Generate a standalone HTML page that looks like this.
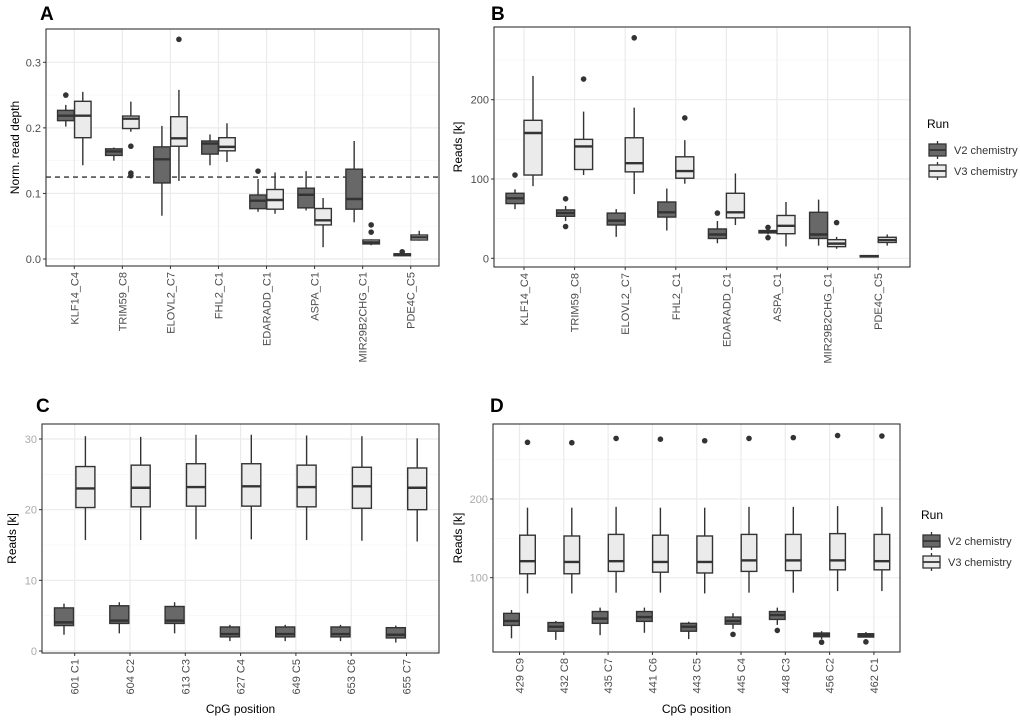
<!DOCTYPE html>
<html><head><meta charset="utf-8">
<style>
html,body{margin:0;padding:0;background:#fff;}
svg{display:block;font-family:"Liberation Sans",sans-serif;}
</style></head>
<body>
<svg id="fig" width="1020" height="726" viewBox="0 0 1020 726" xmlns="http://www.w3.org/2000/svg"></svg>
<script>
// ---------- Panel A ----------
const aCategories = ["KLF14_C4","TRIM59_C8","ELOVL2_C7","FHL2_C1","EDARADD_C1","ASPA_C1","MIR29B2CHG_C1","PDE4C_C5"];
const aV2 = [[0.202,0.211,0.2186,0.2267,0.235],[0.15,0.158,0.164,0.168,0.17],[0.066,0.116,0.152,0.171,0.203],[0.143,0.16,0.176,0.18,0.19],[0.072,0.0768,0.089,0.0976,0.122],[0.074,0.078,0.098,0.108,0.134],[0.056,0.076,0.0915,0.137,0.18],[0.004,0.005,0.0066,0.008,0.009]];
const aV3 = [[0.143,0.185,0.2186,0.2405,0.255],[0.194,0.199,0.214,0.218,0.24],[0.119,0.172,0.184,0.217,0.258],[0.148,0.165,0.171,0.185,0.207],[0.069,0.076,0.09,0.106,0.132],[0.018,0.052,0.059,0.077,0.093],[0.021,0.023,0.0254,0.029,0.03],[0.028,0.029,0.033,0.0366,0.043]];
const aV2Out = [[0.25],[],[],[],[0.134],[],[],[0.011]];
const aV3Out = [[],[0.172,0.131,0.127],[0.335],[],[],[],[0.052,0.041],[]];
const aTicks = [0,0.1,0.2,0.3];
const aTickLabels = ["0.0","0.1","0.2","0.3"];
const aMinor = [0.05,0.15,0.25];
const aRefLine = 0.125;
// ---------- Panel B ----------
const bCategories = aCategories;
const bV2 = [[62,69,75.6,82,87],[47,53,57,61,66],[27,42,47.5,57,62],[35,52,58,71,88],[19,25,30,37,47],[30,32,33.6,35,37],[16,25,30,58,74],[1.5,1.7,2.5,3.4,3.5]];
const bV3 = [[91,105,158,174,230],[105,112,141,150,185],[81,109,120,152,190],[94,101,110,128,149],[42,51,58,82,107],[15,31,41,54,71],[12,14.7,18.5,23.5,27],[16,20,23,26.5,30]];
const bV2Out = [[105],[75,40],[],[],[57],[39,26],[],[]];
const bV3Out = [[],[226],[278],[177],[],[],[45],[]];
const bTicks = [0,100,200];
const bMinor = [50,150,250];
// ---------- Panel C ----------
const cCategories = ["601 C1","604 C2","613 C3","627 C4","649 C5","653 C6","655 C7"];
const cV2 = [[2.3,3.6,4.05,6.1,6.7],[2.5,3.9,4.3,6.4,6.9],[2.5,3.9,4.3,6.3,6.9],[1.4,2.0,2.4,3.4,3.7],[1.4,2.0,2.4,3.4,3.7],[1.4,2.0,2.4,3.4,3.7],[1.2,1.85,2.3,3.3,3.6]];
const cV3 = [[15.7,20.3,23.0,26.1,30.4],[15.7,20.4,23.1,26.3,30.3],[15.8,20.5,23.2,26.5,30.6],[15.8,20.5,23.3,26.5,30.6],[15.7,20.4,23.2,26.3,30.5],[15.6,20.2,23.3,26.0,30.4],[15.5,20.0,23.1,25.9,30.1]];
const cTicks = [0,10,20,30];
const cMinor = [5,15,25];
// ---------- Panel D ----------
const dCategories = ["429 C9","432 C8","435 C7","441 C6","443 C5","445 C4","448 C3","456 C2","462 C1"];
const dV2 = [[23,39.4,45,54.7,59],[21,32,37.7,43,45],[27,42,48,57,62],[30,44.5,50,57,62],[22,32,37.7,42,44],[35,41,45,50,55],[40,47,52.5,57,62],[22,25,27.5,29.7,32],[24,24.6,26.7,28.8,31]];
const dV3 = [[80,105,121,154,189],[80,105,120,153,189],[81,108,121,155,190],[81,107,120,154,189],[80,106,120,153,189],[81,108,122,155,190],[81,109,122,155,190],[83,110,122,156,191],[83,110,121,155,190]];
const dV2Out = [[],[],[],[],[],[28],[33],[18],[18.5]];
const dV3Out = [[272],[271.5],[277],[276],[274],[277],[278],[280.6],[280]];
const dTicks = [100,200];
const dMinor = [50,150,250];

const NS = "http://www.w3.org/2000/svg";
const svg = document.getElementById("fig");
function mk(tag, attrs, parent, text){
  const e = document.createElementNS(NS, tag);
  for (const k in attrs) e.setAttribute(k, attrs[k]);
  if (text !== undefined) e.textContent = text;
  (parent || svg).appendChild(e);
  return e;
}

function panel(cfg){
  const g = mk("g", {});
  
  
  const y = v => cfg.y0 + (v - cfg.v0) * (cfg.y1 - cfg.y0) / (cfg.v1 - cfg.v0);
  const x = i => cfg.c0 + i * cfg.step;
  mk("rect", {x:cfg.L, y:cfg.T, width:cfg.R-cfg.L, height:cfg.B-cfg.T, fill:"#fff"}, g);
  cfg.minor.forEach(v => { if (y(v) > cfg.T && y(v) < cfg.B) mk("line", {x1:cfg.L, x2:cfg.R, y1:y(v), y2:y(v), stroke:"#f4f4f4", "stroke-width":0.6}, g); });
  cfg.ticks.forEach(v => mk("line", {x1:cfg.L, x2:cfg.R, y1:y(v), y2:y(v), stroke:"#ebebeb", "stroke-width":1.2}, g));
  cfg.cats.forEach((c, i) => mk("line", {x1:x(i), x2:x(i), y1:cfg.T, y2:cfg.B, stroke:"#ebebeb", "stroke-width":1.2}, g));
  if (cfg.ref !== undefined){
    const rl = mk("line", {x1:cfg.L, x2:cfg.R, y1:y(cfg.ref), y2:y(cfg.ref), stroke:"#333", "stroke-width":1.3, "stroke-dasharray":"5,4"}, g);
    
    
  }
  const series = [{d:cfg.v2, o:cfg.v2o, fill:"#686868", off:-cfg.off, nm:"v2"},{d:cfg.v3, o:cfg.v3o, fill:"#ebebeb", off:cfg.off, nm:"v3"}];
  series.forEach(s => {
    s.d.forEach((q, i) => {
      const cx = x(i) + s.off, w = cfg.bw;
      const bg = mk("g", {}, g);
      
      
      mk("line", {x1:cx, x2:cx, y1:y(q[0]), y2:y(q[1]), stroke:"#333", "stroke-width":1.4}, bg);
      mk("line", {x1:cx, x2:cx, y1:y(q[3]), y2:y(q[4]), stroke:"#333", "stroke-width":1.4}, bg);
      mk("rect", {x:cx-w/2, y:y(q[3]), width:w, height:Math.max(0.5, y(q[1])-y(q[3])), fill:s.fill, stroke:"#333", "stroke-width":1.4}, bg);
      mk("line", {x1:cx-w/2, x2:cx+w/2, y1:y(q[2]), y2:y(q[2]), stroke:"#333", "stroke-width":2.4}, bg);
      (s.o ? s.o[i] : []).forEach(v => {
        const p = mk("circle", {cx:cx, cy:y(v), r:2.8, fill:"#333"}, bg);
        
        
      });
    });
  });
  mk("rect", {x:cfg.L, y:cfg.T, width:cfg.R-cfg.L, height:cfg.B-cfg.T, fill:"none", stroke:"#333", "stroke-width":1.1}, g);
  cfg.ticks.forEach((v, k) => {
    mk("line", {x1:cfg.L-3, x2:cfg.L, y1:y(v), y2:y(v), stroke:"#333", "stroke-width":1}, g);
    const t = mk("text", {x:cfg.L-5, y:y(v)+4, "text-anchor":"end", "font-size":11, fill:cfg.tickCol}, g, cfg.tickLabels ? cfg.tickLabels[k] : String(v));
    
    
  });
  cfg.cats.forEach((c, i) => {
    mk("line", {x1:x(i), x2:x(i), y1:cfg.B, y2:cfg.B+3, stroke:"#333", "stroke-width":1}, g);
    const t = mk("text", {x:0, y:0, "text-anchor":"end", "font-size":11, fill:"#4d4d4d", transform:`translate(${x(i)+4},${cfg.B+6}) rotate(-90)`}, g, c);
    
    
  });
  const lt = mk("text", {x:cfg.letterX, y:cfg.letterY, "font-size":19, "font-weight":"bold", fill:"#000"}, g, cfg.letter);
  
  
  const yt = mk("text", {x:0, y:0, "text-anchor":"middle", "font-size":12, fill:"#000", transform:`translate(${cfg.ytX},${(cfg.T+cfg.B)/2}) rotate(-90)`}, g, cfg.ytitle);
  
  
  if (cfg.xtitle){
    const xt = mk("text", {x:(cfg.L+cfg.R)/2, y:713, "text-anchor":"middle", "font-size":12, fill:"#000"}, g, cfg.xtitle);
    
    
  }
}

function legend(lx, ly){
  const g = mk("g", {});
  
  
  mk("text", {x:lx, y:ly, "font-size":12, fill:"#000"}, g, "Run");
  [["V2 chemistry","#686868"],["V3 chemistry","#ebebeb"]].forEach((e, k) => {
    const cy = ly + 22 + k*21;
    const eg = mk("g", {}, g);
    
    
    mk("line", {x1:lx+10.5, x2:lx+10.5, y1:cy-9, y2:cy+9, stroke:"#333", "stroke-width":1.3}, eg);
    mk("rect", {x:lx+2, y:cy-6, width:17, height:12, fill:e[1], stroke:"#333", "stroke-width":1.3}, eg);
    mk("line", {x1:lx+2, x2:lx+19, y1:cy, y2:cy, stroke:"#333", "stroke-width":1.8}, eg);
    mk("text", {x:lx+27, y:cy+4, "font-size":11, fill:"#333"}, eg, e[0]);
  });
}

panel({name:"panel-a", letter:"A", letterX:40, letterY:20, L:46, R:439, T:29, B:266, v0:0, v1:0.3, y0:259, y1:62.3,
  c0:74.3, step:48.06, off:8.5, bw:16.5, cats:aCategories, v2:aV2, v3:aV3, v2o:aV2Out, v3o:aV3Out,
  ticks:aTicks, tickLabels:aTickLabels, minor:aMinor, ref:aRefLine, tickCol:"#4d4d4d", ytitle:"Norm. read depth", ytX:19});
panel({name:"panel-b", letter:"B", letterX:491, letterY:20, L:494, R:910, T:27, B:267, v0:0, v1:200, y0:258.3, y1:99.7,
  c0:524, step:50.6, off:9, bw:18, cats:bCategories, v2:bV2, v3:bV3, v2o:bV2Out, v3o:bV3Out,
  ticks:bTicks, minor:bMinor, tickCol:"#4d4d4d", ytitle:"Reads [k]", ytX:462});
panel({name:"panel-c", letter:"C", letterX:36, letterY:412, L:42, R:439, T:424, B:653, v0:0, v1:30, y0:651, y1:439,
  c0:74.7, step:55.3, off:10.7, bw:19, cats:cCategories, v2:cV2, v3:cV3, v2o:null, v3o:null,
  ticks:cTicks, minor:cMinor, tickCol:"#aaa", ytitle:"Reads [k]", ytX:16, xtitle:"CpG position"});
panel({name:"panel-d", letter:"D", letterX:490, letterY:412, L:493, R:900, T:424, B:652, v0:100, v1:200, y0:577.7, y1:499,
  c0:519.5, step:44.3, off:8, bw:15.6, cats:dCategories, v2:dV2, v3:dV3, v2o:dV2Out, v3o:dV3Out,
  ticks:dTicks, minor:dMinor, tickCol:"#aaa", ytitle:"Reads [k]", ytX:462, xtitle:"CpG position"});
legend(927, 128);
legend(921, 519);
</script>
</body></html>
